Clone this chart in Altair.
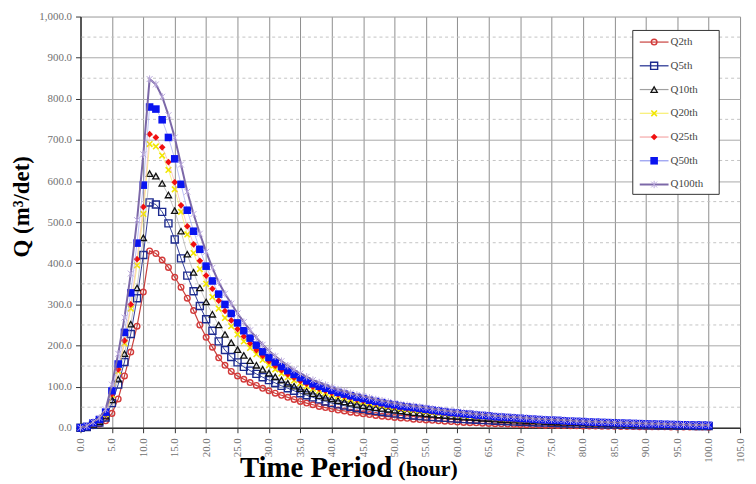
import altair as alt
import pandas as pd

# ---------------- data ----------------
hours = list(range(0, 101))
series_names = ["Q2th", "Q5th", "Q10th", "Q20th", "Q25th", "Q50th", "Q100th"]

q2 = [0, 1, 5, 9, 17, 35, 70, 126, 184, 247, 330,
      430, 424, 408, 390, 366, 342, 315, 285, 250, 220,
      196, 170, 152, 137, 126, 118, 110, 103, 96, 90,
      84, 79, 74, 69, 64, 60, 56, 52, 49, 46,
      43, 41, 38, 36, 34, 32, 30, 28, 27, 25,
      24, 23, 21, 20, 19, 18, 17, 16, 15, 14,
      13, 12.5, 12, 11, 10.5, 10, 9.5, 9, 8.5, 8,
      7.6, 7.2, 6.8, 6.4, 6, 5.7, 5.4, 5.1, 4.8, 4.5,
      4.3, 4.1, 3.9, 3.7, 3.5, 3.3, 3.1, 2.9, 2.7, 2.5,
      2.4, 2.3, 2.2, 2.1, 2, 1.9, 1.8, 1.7, 1.6, 1.5]

q5 = [0, 2, 7, 13, 25, 60, 105, 160, 228, 315, 420,
      548, 543, 525, 497, 458, 412, 370, 332, 296, 264,
      236, 210, 189, 172, 159, 148, 139, 131, 123, 116,
      109, 102, 96, 90, 84, 79, 74, 69, 64, 60,
      57, 54, 51, 48, 46, 43, 41, 39, 37, 35,
      33, 31.5, 30, 28.5, 27, 26, 25, 24, 23, 22,
      21, 20, 19.5, 18.5, 18, 17, 16.5, 16, 15, 14.5,
      14, 13.5, 13, 12.5, 12, 11.5, 11, 10.5, 10, 9.6,
      9.2, 8.8, 8.4, 8, 7.7, 7.4, 7.1, 6.8, 6.5, 6.2,
      5.9, 5.6, 5.4, 5.2, 5, 4.8, 4.6, 4.4, 4.2, 4]

q10 = [0, 2, 8, 15, 28, 68, 118, 180, 252, 340, 462,
       618, 612, 594, 566, 528, 478, 422, 378, 340, 306,
       276, 250, 227, 207, 190, 176, 163, 152, 142, 133,
       124, 116, 108, 101, 95, 89, 83, 78, 74, 70,
       66, 63, 60, 57, 54, 51, 49, 47, 45, 43,
       41, 39, 37, 35.5, 34, 32.5, 31, 29.5, 28, 27,
       26, 25, 24, 23, 22, 21, 20, 19, 18.5, 18,
       17, 16.5, 16, 15, 14.5, 14, 13.5, 13, 12.5, 12,
       11.5, 11, 10.5, 10, 9.6, 9.2, 8.8, 8.4, 8, 7.7,
       7.4, 7.1, 6.8, 6.5, 6.2, 6, 5.8, 5.6, 5.4, 5.2]

q20 = [0, 3, 10, 18, 33, 80, 138, 205, 290, 395, 520,
       690, 684, 662, 627, 580, 525, 470, 425, 386, 350,
       318, 290, 267, 247, 227, 210, 194, 179, 165, 152,
       142, 132, 123, 115, 108, 101, 95, 90, 85, 81,
       77, 73, 69, 66, 63, 60, 57, 54, 52, 50,
       47, 45, 43, 42, 40, 38, 36.5, 35, 33, 32,
       30, 29, 28, 27, 26, 24, 23, 22, 21, 20.5,
       19.5, 18.5, 18, 17, 16.5, 16, 15, 14.5, 14, 13.5,
       13, 12.5, 12, 11.5, 11, 10.5, 10, 9.5, 9, 8.6,
       8.2, 7.8, 7.4, 7.1, 6.8, 6.5, 6.2, 5.9, 5.6, 5.4]

q25 = [0, 3, 11, 19, 35, 82, 142, 212, 300, 410, 537,
       714, 706, 682, 646, 597, 541, 490, 446, 406, 370,
       338, 309, 284, 261, 240, 222, 205, 189, 175, 162,
       151, 140, 130, 122, 114, 107, 100, 95, 90, 85,
       81, 77, 73, 69, 66, 63, 60, 57, 54, 52,
       49, 47, 45, 44, 42, 40, 38, 36, 34, 33,
       32, 30.5, 29, 28, 27, 25, 24, 23, 22, 21.5,
       20.5, 19.5, 18.5, 17.5, 17, 16.5, 16, 15, 14.5, 14,
       13, 12.5, 12, 11.7, 11.2, 10.7, 10.2, 9.8, 9.3, 9,
       8.6, 8.2, 7.8, 7.4, 7.1, 6.7, 6.3, 6, 5.8, 5.6]

q50 = [0, 3, 12, 20, 38, 90, 155, 232, 328, 449, 590,
       780, 775, 749, 706, 654, 592, 529, 478, 434, 393,
       357, 325, 300, 278, 255, 236, 218, 201, 185, 171,
       160, 149, 139, 130, 122, 114, 107, 101, 96, 91,
       86, 82, 78, 74, 71, 67, 64, 61, 58, 56,
       53, 51, 49, 47, 45, 43, 41, 39, 37, 36,
       34, 33, 31, 30, 29, 27, 26, 25, 24, 23,
       22, 21, 20, 19, 18.5, 18, 17, 16, 15.5, 15,
       14, 13.5, 13, 12.5, 12, 11.5, 11, 10.5, 10, 9.6,
       9.2, 8.8, 8.4, 8, 7.6, 7.2, 6.8, 6.5, 6.2, 6]

q100 = [0, 4, 14, 24, 45, 105, 180, 268, 375, 505, 665,
        848, 835, 805, 760, 706, 640, 574, 520, 472, 428,
        389, 354, 326, 302, 278, 257, 237, 219, 202, 187,
        174, 162, 151, 141, 132, 124, 116, 110, 104, 98,
        93, 89, 84, 80, 77, 73, 69, 66, 63, 60,
        57, 55, 53, 51, 49, 46, 44, 42, 40, 39,
        37, 35.5, 33.5, 32, 31, 29, 28, 27, 26, 25,
        24, 22.5, 21.5, 20.5, 20, 19.5, 18.5, 17.5, 16.5, 16,
        15, 14.5, 14, 13.5, 13, 12.5, 12, 11.5, 10.8, 10.4,
        10, 9.5, 9, 8.6, 8.2, 7.8, 7.3, 7, 6.7, 6.5]

series_values = [q2, q5, q10, q20, q25, q50, q100]

y_ticks = list(range(0, 1001, 100))
y_minor = list(range(50, 1000, 100))
x_ticks = list(range(0, 106, 5))

# ---------------- styles ----------------
X_PATH = "M-0.8,-0.8L0.8,0.8M-0.8,0.8L0.8,-0.8"
STAR_PATH = "M-0.8,-0.8L0.8,0.8M-0.8,0.8L0.8,-0.8M0,-1L0,1"

styles = {
    "Q2th":   dict(shape="circle", filled=False, color="#D33A3A", size=32, sw=1.4, line="#C8403C", lw=1.2),
    "Q5th":   dict(shape="square", filled=False, color="#1C2A8E", size=50, sw=1.4, line="#1C2A8E", lw=0.9),
    "Q10th":  dict(shape="triangle-up", filled=False, color="#111111", size=40, sw=1.3, line="#a0a0a0", lw=0.6),
    "Q20th":  dict(shape=X_PATH, filled=False, color="#F2E600", size=50, sw=1.6, line="#F7EE70", lw=0.8),
    "Q25th":  dict(shape="diamond", filled=True, color="#F01010", size=45, sw=1, line="#F4A8A8", lw=0.6),
    "Q50th":  dict(shape="square", filled=True, color="#0A14F0", size=58, sw=1, line="#9098F0", lw=0.6),
    "Q100th": dict(shape=STAR_PATH, filled=False, color="#B9A8DC", size=55, sw=1.0, line="#7C68A8", lw=2.0),
}

SERIF = "Liberation Serif"
PLOT_W, PLOT_H = 664, 414

x_scale = alt.Scale(domain=[0, 105], nice=False, zero=False)
y_scale = alt.Scale(domain=[0, 1000], nice=False)

x_axis = alt.Axis(values=x_ticks, format=".1f", labelAngle=-90, labelFont=SERIF,
                  labelFontSize=11, labelColor="#707070", labelPadding=5,
                  tickColor="#333333", tickSize=5, domainColor="#333333", domainWidth=1.5,
                  grid=True, gridColor="#8e8e8e", gridWidth=1,
                  title="Time Period", titleFont=SERIF, titleFontSize=29,
                  titleFontWeight="bold", titleColor="#000000",
                  titleX=160, titleY=49, titleAlign="left", titleBaseline="alphabetic")

y_axis = alt.Axis(values=y_ticks, format=",.1f", labelFont=SERIF, labelFontSize=11,
                  labelColor="#707070", labelPadding=4,
                  tickColor="#333333", tickSize=5, domainColor="#333333", domainWidth=1.5,
                  grid=True, gridColor="#a8a8a8", gridWidth=1,
                  title="Q (m³/det)", titleFont=SERIF, titleFontSize=23,
                  titleFontWeight="bold", titleColor="#000000",
                  titleX=-47, titleY=191, titleAlign="center", titleBaseline="bottom",
                  titleAngle=270)

X = lambda f="hour": alt.X(f"{f}:Q", scale=x_scale, axis=x_axis)
Y = lambda f="Q": alt.Y(f"{f}:Q", scale=y_scale, axis=y_axis)

layers = []

# minor dashed gridlines
minor_df = pd.DataFrame({"Q": y_minor})
layers.append(
    alt.Chart(minor_df).mark_rule(color="#c4c4c4", strokeDash=[3, 3], strokeWidth=1)
    .encode(y=Y())
)

# data series
for name, vals in zip(series_names, series_values):
    assert len(vals) == len(hours), name
    st = styles[name]
    df = pd.DataFrame({"hour": hours, "Q": vals})
    base = alt.Chart(df)
    layers.append(base.mark_line(color=st["line"], strokeWidth=st["lw"]).encode(x=X(), y=Y()))
    layers.append(
        base.mark_point(shape=st["shape"], filled=st["filled"], color=st["color"],
                        size=st["size"], strokeWidth=st["sw"], opacity=1)
        .encode(x=X(), y=Y())
    )

# smaller "(hour)" part of the x-axis title
layers.append(
    alt.Chart(alt.Data(values=[{"t": "(hour)"}]))
    .mark_text(align="left", baseline="alphabetic", font=SERIF, fontSize=22,
               fontWeight="bold", color="#000000")
    .encode(x=alt.value(320), y=alt.value(PLOT_H + 49), text="t:N")
)

# ---------------- legend (drawn inside the plot, top-right) ----------------
PX_PER_UNIT = PLOT_H / 1000.0
leg_top_px, leg_step_px = 25.7, 23.9
leg_x0, leg_x1, leg_xm, leg_xt = 563, 592, 577.5, 594

layers.append(
    alt.Chart(alt.Data(values=[{}])).mark_rect(fill="white", stroke="#333333", strokeWidth=1)
    .encode(x=alt.value(556), x2=alt.value(643), y=alt.value(14), y2=alt.value(179))
)
for i, name in enumerate(series_names):
    st = styles[name]
    ly = 1000 - (leg_top_px + leg_step_px * i) / PX_PER_UNIT
    ldf = pd.DataFrame({"Q": [ly], "name": [name]})
    lb = alt.Chart(ldf)
    layers.append(lb.mark_rule(color=st["line"], strokeWidth=max(st["lw"], 1.2))
                  .encode(x=alt.value(leg_x0), x2=alt.value(leg_x1), y=Y()))
    layers.append(lb.mark_point(shape=st["shape"], filled=st["filled"], color=st["color"],
                                size=st["size"], strokeWidth=st["sw"], opacity=1)
                  .encode(x=alt.value(leg_xm), y=Y()))
    layers.append(lb.mark_text(align="left", baseline="middle", font=SERIF, fontSize=11,
                               color="#444444")
                  .encode(x=alt.value(leg_xt), y=Y(), text="name:N"))

chart = alt.layer(*layers).properties(
    width=PLOT_W, height=PLOT_H,
    autosize=alt.AutoSizeParams(type="none"),
    padding={"left": 73, "top": 7, "right": 8, "bottom": 54},
).configure_view(stroke=None).configure(background="white")

chart.save("out.html", embed_options={"renderer": "svg", "actions": False})
